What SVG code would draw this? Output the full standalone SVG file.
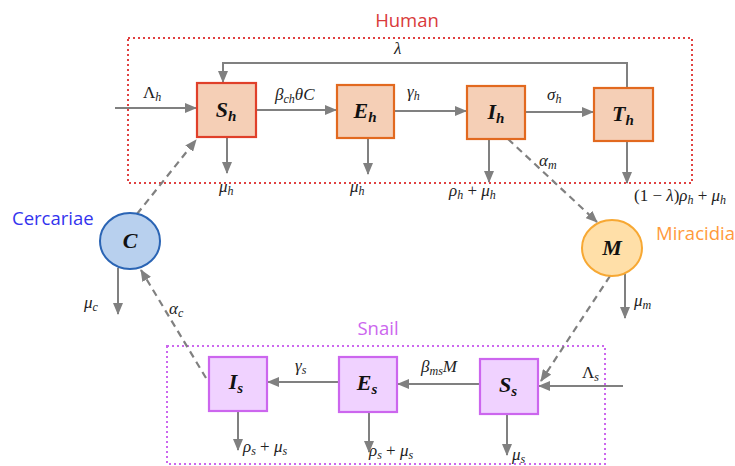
<svg xmlns="http://www.w3.org/2000/svg" width="735" height="466" viewBox="0 0 735 466">
  <defs>
    <marker id="arr" markerUnits="userSpaceOnUse" markerWidth="12" markerHeight="10" viewBox="0 0 12 10" refX="11" refY="5" orient="auto">
      <path d="M0,0 L12,5 L0,10 Z" fill="#808080"/>
    </marker>
    <style>
      .flow { stroke: #808080; stroke-width: 2; fill: none; marker-end: url(#arr); }
      .dash { stroke: #808080; stroke-width: 2.2; fill: none; stroke-dasharray: 7 5; marker-end: url(#arr); }
      .hbox { fill: #f5cfb6; stroke: #e2691f; stroke-width: 2.2; }
      .sbox { fill: #f0d2ff; stroke: #cc66ee; stroke-width: 2.2; }
      .math { font-family: "Liberation Serif", serif; font-style: italic; font-size: 17px; fill: #222; }
      .up { font-style: normal; }
      .sub { font-size: 12px; }
      .node { font-family: "Liberation Serif", serif; font-style: italic; font-weight: bold; font-size: 22px; fill: #111; text-anchor: middle; }
      .nsub { font-size: 15px; }
      .group { font-family: "Open Sans", "Liberation Sans", sans-serif; font-size: 18.5px; }
    </style>
  </defs>

  <!-- compartment frames -->
  <rect x="128" y="38" width="564" height="145" fill="none" stroke="#e04040" stroke-width="2" stroke-dasharray="2 3"/>
  <text class="group" x="407" y="27" fill="#d93a3a" text-anchor="middle">Human</text>
  <rect x="167" y="346" width="438" height="118" fill="none" stroke="#cc66ee" stroke-width="2" stroke-dasharray="2 3"/>
  <text class="group" x="378" y="335" fill="#cc66ee" text-anchor="middle">Snail</text>
  <text class="group" x="12" y="225" fill="#3333ee">Cercariae</text>
  <text class="group" x="656" y="240" fill="#ff9a3c">Miracidia</text>

  <!-- connectors -->
  <g id="connectors">
    <path class="flow" d="M115,108 L196,108"/>
    <path class="flow" d="M627,87 L627,63 L223,63 L223,82"/>
    <path class="flow" d="M256,110 L336,110"/>
    <path class="flow" d="M394,111 L466,111"/>
    <path class="flow" d="M525,112 L593,112"/>
    <path class="flow" d="M227,137 L227,173"/>
    <path class="flow" d="M368,138 L368,174"/>
    <path class="flow" d="M489,139 L489,182"/>
    <path class="flow" d="M627,141 L627,183"/>
    <path class="dash" d="M137,214 L196,140"/>
    <path class="dash" d="M508,139 L597,222"/>
    <path class="dash" d="M610,276 L541,381"/>
    <path class="dash" d="M206,378 L141,270"/>
    <path class="flow" d="M118,268 L118,314"/>
    <path class="flow" d="M625,274 L625,318"/>
    <path class="flow" d="M623,386 L539,386"/>
    <path class="flow" d="M480,384 L398,384"/>
    <path class="flow" d="M339,382 L268,382"/>
    <path class="flow" d="M238,411 L238,450"/>
    <path class="flow" d="M369,412 L369,452"/>
    <path class="flow" d="M507,414 L507,455"/>
  </g>

  <!-- rate labels -->
  <text class="math" x="143" y="98"><tspan class="up">Λ</tspan><tspan class="sub" dy="3">h</tspan></text>
  <text class="math" x="394" y="54">λ</text>
  <text class="math" x="275" y="100">β<tspan class="sub" dy="3">ch</tspan><tspan dy="-3">θC</tspan></text>
  <text class="math" x="407" y="97">γ<tspan class="sub" dy="3">h</tspan></text>
  <text class="math" x="547" y="100">σ<tspan class="sub" dy="3">h</tspan></text>
  <text class="math" x="219" y="192">μ<tspan class="sub" dy="3">h</tspan></text>
  <text class="math" x="350" y="192">μ<tspan class="sub" dy="3">h</tspan></text>
  <text class="math" x="449" y="196">ρ<tspan class="sub" dy="3">h</tspan><tspan class="up" dy="-3"> + </tspan>μ<tspan class="sub" dy="3">h</tspan></text>
  <text class="math" x="634" y="201"><tspan class="up">(1 − </tspan>λ<tspan class="up">)</tspan>ρ<tspan class="sub" dy="3">h</tspan><tspan class="up" dy="-3"> + </tspan>μ<tspan class="sub" dy="3">h</tspan></text>
  <text class="math" x="539" y="166">α<tspan class="sub" dy="3">m</tspan></text>
  <text class="math" x="634" y="306">μ<tspan class="sub" dy="3">m</tspan></text>
  <text class="math" x="84" y="308">μ<tspan class="sub" dy="3">c</tspan></text>
  <text class="math" x="169" y="314">α<tspan class="sub" dy="3">c</tspan></text>
  <text class="math" x="295" y="371">γ<tspan class="sub" dy="3">s</tspan></text>
  <text class="math" x="421" y="372">β<tspan class="sub" dy="3">ms</tspan><tspan dy="-3">M</tspan></text>
  <text class="math" x="582" y="378"><tspan class="up">Λ</tspan><tspan class="sub" dy="3">s</tspan></text>
  <text class="math" x="243" y="452">ρ<tspan class="sub" dy="3">s</tspan><tspan class="up" dy="-3"> + </tspan>μ<tspan class="sub" dy="3">s</tspan></text>
  <text class="math" x="369" y="456">ρ<tspan class="sub" dy="3">s</tspan><tspan class="up" dy="-3"> + </tspan>μ<tspan class="sub" dy="3">s</tspan></text>
  <text class="math" x="512" y="460">μ<tspan class="sub" dy="3">s</tspan></text>

  <!-- human compartments -->
  <g id="Sh">
    <rect class="hbox" x="197" y="83" width="59" height="54" style="stroke:#e0402a"/>
    <text class="node" x="226" y="117">S<tspan class="nsub" dy="4">h</tspan></text>
  </g>
  <g id="Eh">
    <rect class="hbox" x="337" y="85" width="57" height="53"/>
    <text class="node" x="365" y="118">E<tspan class="nsub" dy="4">h</tspan></text>
  </g>
  <g id="Ih">
    <rect class="hbox" x="467" y="86" width="58" height="53"/>
    <text class="node" x="496" y="119">I<tspan class="nsub" dy="4">h</tspan></text>
  </g>
  <g id="Th">
    <rect class="hbox" x="594" y="88" width="59" height="53"/>
    <text class="node" x="623" y="121">T<tspan class="nsub" dy="4">h</tspan></text>
  </g>

  <!-- free-living larvae -->
  <g id="C">
    <ellipse cx="130" cy="241" rx="30" ry="28" fill="#b8d0ee" stroke="#2a64b4" stroke-width="2"/>
    <text class="node" x="130" y="248">C</text>
  </g>
  <g id="M">
    <ellipse cx="612" cy="248" rx="30" ry="28" fill="#ffdfa8" stroke="#f7a833" stroke-width="2"/>
    <text class="node" x="612" y="255">M</text>
  </g>

  <!-- snail compartments -->
  <g id="Is">
    <rect class="sbox" x="209" y="357" width="58" height="54"/>
    <text class="node" x="236" y="389">I<tspan class="nsub" dy="4">s</tspan></text>
  </g>
  <g id="Es">
    <rect class="sbox" x="339" y="357" width="58" height="55"/>
    <text class="node" x="367" y="390">E<tspan class="nsub" dy="4">s</tspan></text>
  </g>
  <g id="Ss">
    <rect class="sbox" x="480" y="359" width="58" height="55"/>
    <text class="node" x="508" y="392">S<tspan class="nsub" dy="4">s</tspan></text>
  </g>
</svg>
